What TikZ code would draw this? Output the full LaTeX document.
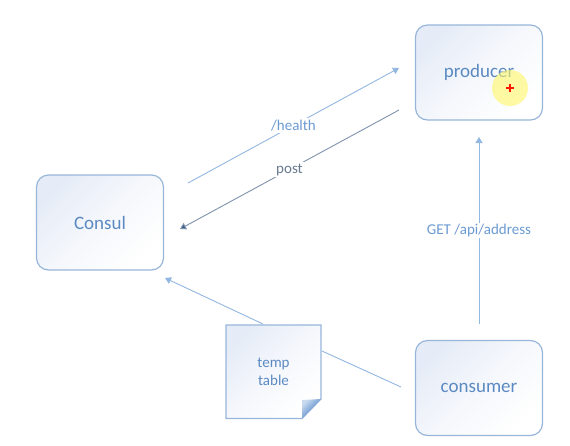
\documentclass[tikz,border=0pt]{standalone}
\usepackage{fontspec}
\setmainfont{Carlito}
\usetikzlibrary{arrows.meta}
\definecolor{boxline}{HTML}{98B6DA}
\definecolor{boxtop}{HTML}{E6ECF7}
\definecolor{boxtext}{HTML}{5B8AC2}
\definecolor{lnc}{HTML}{92B8E2}
\definecolor{postc}{HTML}{7F93AD}
\definecolor{postarr}{HTML}{3E5E8A}
\definecolor{lbl}{HTML}{6C9BD2}
\definecolor{postlbl}{HTML}{687A90}
\definecolor{foldd}{HTML}{2F6DB8}
\definecolor{foldl}{HTML}{C9DAF0}
\tikzset{
  sbox/.style={draw=boxline, line width=1.2pt, rounded corners=12pt,
    top color=boxtop, bottom color=white, middle color=white!60!boxtop, shading angle=45,
    minimum width=127pt, minimum height=95pt, inner sep=0pt,
    text=boxtext, font=\fontsize{19}{22}\selectfont},
  conn/.style={draw=lnc, line width=0.9pt, -{Triangle[width=7pt,length=6pt]}},
  plainconn/.style={draw=lnc, line width=0.9pt},
  lab/.style={fill=white, inner sep=1.5pt, text=lbl, font=\fontsize{15}{17}\selectfont},
}
\begin{document}
\begin{tikzpicture}[x=1pt,y=-1pt]
\useasboundingbox (0,0) rectangle (570,445);
\fill[white] (0,0) rectangle (570,445);
% boxes
\node[sbox] (producer) at (479,72.5) {producer};
\node[sbox] (consul) at (100,222.5) {Consul};
\node[sbox] (consumer) at (479,388) {consumer};
% temp table note
\shade[top color=boxtop, bottom color=white, middle color=white!60!boxtop, shading angle=45, draw=boxline, line width=1.2pt]
  (226,325) -- (321,325) -- (321,399) -- (302,418.5) -- (226,418.5) -- cycle;
\shade[left color=foldl, right color=foldd, shading angle=45]
  (302,400) -- (321,399) -- (302,418.5) -- cycle;
\node[inner sep=0pt, minimum width=95pt, minimum height=93pt, text=boxtext, align=center,
  font=\fontsize{15}{18.5}\selectfont] (temp) at (273.5,372) {temp\\table};
% coordinates
\coordinate (h1) at (188,183);
\coordinate (h2) at (399,68);
\coordinate (p1) at (399,110);
\coordinate (p2) at (180,229);
\coordinate (g1) at (479,324);
\coordinate (g2) at (479,137);
\coordinate (t1) at (263,324);
\coordinate (t2) at (165,278);
\coordinate (c1) at (322,351);
\coordinate (c2) at (401,387);
% connectors
\draw[conn] (h1) -- node[lab] {/health} (h2);
\draw[draw=postc, line width=0.9pt, -{Triangle[width=7pt,length=6pt,fill=postarr]}]
  (p1) -- node[lab, text=postlbl] {post} (p2);
\draw[conn] (g1) -- node[lab] {GET /api/address} (g2);
\draw[conn] (t1) -- (t2);
\draw[plainconn] (c1) -- (c2);
% cursor highlight
\fill[yellow!60!white, opacity=0.6] (510,88) circle (18);
\draw[red!80!orange, line width=1.2pt] (506,88) -- (514,88) (510,84) -- (510,92);
\end{tikzpicture}
\end{document}
